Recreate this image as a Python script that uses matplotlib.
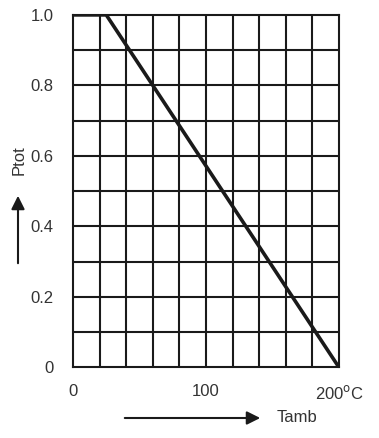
import matplotlib
matplotlib.use("Agg")
import matplotlib.pyplot as plt
import numpy as np

plt.rcParams['font.family'] = ['Liberation Sans', 'DejaVu Sans']

# Derating curve: Ptot vs Tamb
tamb = [0, 25, 200]
ptot = [1.0, 1.0, 0.0]

xticks = [0, 100, 200]
xtick_labels = ["0", "100", "200$^{\\mathrm{o}}$C"]
yticks = [0, 0.2, 0.4, 0.6, 0.8, 1.0]
ytick_labels = ["0", "0.2", "0.4", "0.6", "0.8", "1.0"]

fig = plt.figure(figsize=(3.79, 4.38), dpi=100)
ax = fig.add_axes([0.1926, 0.161, 0.702, 0.805])

ax.plot(tamb, ptot, color="#1a1a1a", linewidth=2.6, solid_capstyle="butt", zorder=3)

ax.set_xlim(0, 200)
ax.set_ylim(0, 1.0)

# grid every 20 degC and 0.1
for gx in np.arange(20, 200, 20):
    ax.axvline(gx, color="#1a1a1a", linewidth=1.5, zorder=2)
for gy in np.arange(0.1, 1.0, 0.1):
    ax.axhline(gy, color="#1a1a1a", linewidth=1.5, zorder=2)

for s in ax.spines.values():
    s.set_linewidth(1.5)
    s.set_color("#1a1a1a")

ax.set_xticks(xticks)
ax.set_xticklabels(xtick_labels)
ax.set_yticks(yticks)
ax.set_yticklabels(ytick_labels)
ax.tick_params(length=0, labelsize=12, labelcolor="#333333", pad=12)
ax.tick_params(axis="y", pad=14)

# axis labels with arrows
fig.text(19 / 379, 1 - 160 / 438, "Ptot", rotation=90, ha="center", va="center",
         fontsize=12, color="#333333")
fig.patches.append(matplotlib.patches.FancyArrowPatch(
    (18 / 379, 1 - 266 / 438), (18 / 379, 1 - 193 / 438), transform=fig.transFigure,
    arrowstyle="-|>,head_length=8,head_width=4", color="#1a1a1a", linewidth=1.5,
    mutation_scale=1))
fig.patches.append(matplotlib.patches.FancyArrowPatch(
    (122 / 379, 1 - 418 / 438), (263 / 379, 1 - 418 / 438), transform=fig.transFigure,
    arrowstyle="-|>,head_length=8,head_width=4", color="#1a1a1a", linewidth=1.5,
    mutation_scale=1))
fig.text(277 / 379, 1 - 418 / 438, "Tamb", ha="left", va="center",
         fontsize=12, color="#333333")

fig.savefig("out.png", dpi=100)
